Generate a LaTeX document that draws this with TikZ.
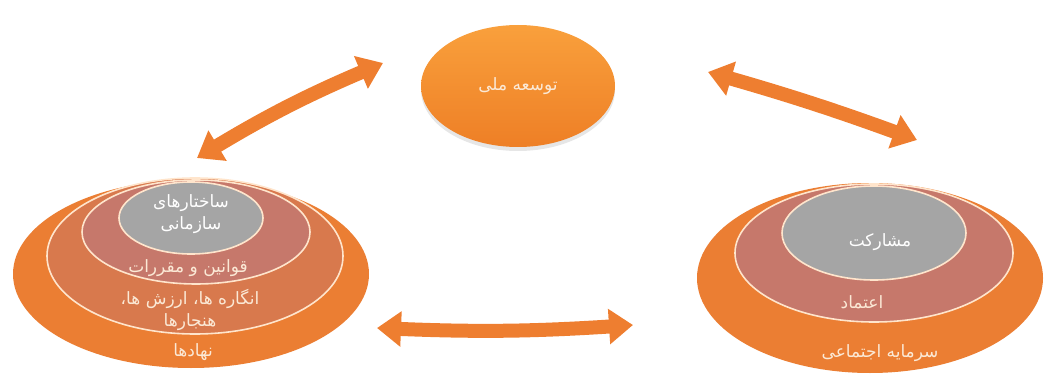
\documentclass[tikz,border=0pt]{standalone}
\usepackage{fontspec}
\newfontfamily\arabicfont[Script=Arabic]{DejaVu Sans}
\TeXXeTstate=1
\usetikzlibrary{arrows.meta,shapes.geometric,shadows}

\definecolor{arrowc}{HTML}{EE7E30}
\definecolor{topA}{HTML}{F9A03C}
\definecolor{topB}{HTML}{EE7F26}
\definecolor{outerc}{HTML}{EB7E33}
\definecolor{midc}{HTML}{D8794D}
\definecolor{mauve}{HTML}{C6786B}
\definecolor{greyc}{HTML}{A5A5A5}
\definecolor{cream}{HTML}{FBE9D6}

\begin{document}
\begin{tikzpicture}[x=1pt,y=-1pt,
  ring/.style={ellipse, inner sep=0pt},
  lined/.style={ring, draw=white!80!orange, line width=1.6pt},
  dbl/.style={{Triangle[length=24pt,width=34pt]}-{Triangle[length=24pt,width=34pt]},
              line width=14pt, draw=arrowc},
  lab/.style={font=\arabicfont\fontsize{17}{22}\selectfont, text=cream, align=center}]
\useasboundingbox (0,0) rectangle (1044,377);
% ---- top: national development ----
\node[ring, minimum width=194pt, minimum height=122pt, top color=topA, bottom color=topB,
      drop shadow={opacity=0.2, shadow xshift=0pt, shadow yshift=-4pt}] (dev) at (518,86) {};
\node[lab] (devt) at (dev.center) {\beginR توسعه ملی\endR};
% ---- left: institutions ----
\node[ring, fill=outerc, minimum width=356pt, minimum height=188pt] (inst) at (191,274) {};
\node[lined, fill=midc, minimum width=296pt, minimum height=156pt] (norms) at (195,256) {};
\node[lined, fill=mauve, minimum width=228pt, minimum height=104pt] (laws) at (196,232) {};
\node[lined, fill=greyc, minimum width=144pt, minimum height=72pt] (org) at (191,218) {};
\node[lab, text=white] (orgt) at (191,214) {\beginR ساختارهای\endR\\\beginR سازمانی\endR};
\node[lab] (lawst) at (188,268) {\beginR قوانین و مقررات\endR};
\node[lab] (normst) at (190,310) {\beginR انگاره ها، ارزش ها،\endR\\\beginR هنجارها\endR};
\node[lab] (instt) at (193,352) {\beginR نهادها\endR};
% ---- right: social capital ----
\node[ring, fill=outerc, minimum width=346pt, minimum height=190pt] (cap) at (870,278) {};
\node[lined, fill=mauve, minimum width=278pt, minimum height=138pt] (trust) at (874,253) {};
\node[lined, fill=greyc, minimum width=184pt, minimum height=94pt] (part) at (874,233) {};
\node[lab, text=white] (partt) at (880,242) {\beginR مشارکت\endR};
\node[lab] (trustt) at (862,302) {\beginR اعتماد\endR};
\node[lab] (capt) at (880,353) {\beginR سرمایه اجتماعی\endR};
% ---- double arrows ----
\coordinate (lt) at (197,158);
\coordinate (tl) at (383,63);
\coordinate (tr) at (708,72);
\coordinate (rt) at (917,140);
\coordinate (lb) at (377,328);
\coordinate (rb) at (633,325);
\draw[dbl] (lt) to[bend left=4] (tl);
\draw[dbl] (tr) to[bend left=2] (rt);
\draw[dbl] (lb) to[bend right=3] (rb);
\end{tikzpicture}
\end{document}
